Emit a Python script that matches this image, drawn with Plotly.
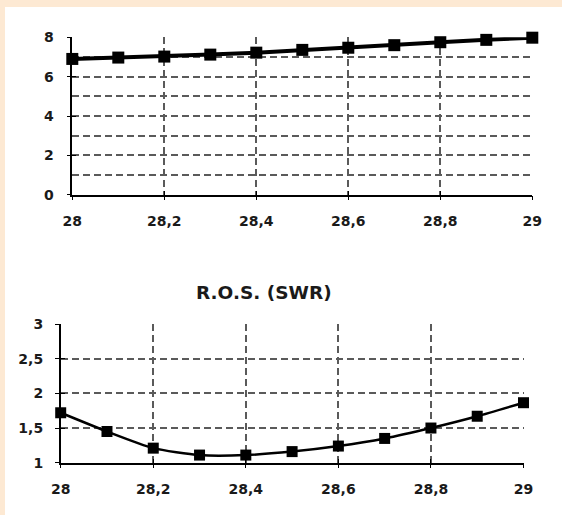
import plotly.graph_objects as go

# Frequency (MHz) sweep shared by both panels
freq = [28.0, 28.1, 28.2, 28.3, 28.4, 28.5, 28.6, 28.7, 28.8, 28.9, 29.0]
# Gain curve (upper panel)
gain = [6.9, 6.97, 7.02, 7.12, 7.22, 7.36, 7.47, 7.6, 7.75, 7.87, 7.98]
# Standing wave ratio (lower panel)
swr = [1.72, 1.45, 1.21, 1.11, 1.11, 1.16, 1.24, 1.35, 1.5, 1.67, 1.865]

x_ticks = [28.0, 28.2, 28.4, 28.6, 28.8, 29.0]
x_labels = ["28", "28,2", "28,4", "28,6", "28,8", "29"]
gain_ticks = [0, 2, 4, 6, 8]
swr_ticks = [1, 1.5, 2, 2.5, 3]
swr_labels = ["1", "1,5", "2", "2,5", "3"]
panel_title = "R.O.S. (SWR)"

W, H = 562, 515
FONT = "DejaVu Sans, Verdana, sans-serif"
INK = "#1a1a1a"
GRID = "#5a5a5a"
DASH = "7px,4px"


def px_x(p):
    return p / W


def px_y(p):
    return 1 - p / H


fig = go.Figure()

fig.add_trace(go.Scatter(
    x=freq, y=gain, mode="lines+markers", xaxis="x", yaxis="y",
    line=dict(color="black", width=4),
    marker=dict(symbol="square", size=12, color="black"),
    cliponaxis=False, showlegend=False, hoverinfo="skip",
))
fig.add_trace(go.Scatter(
    x=freq, y=swr, mode="lines+markers", xaxis="x2", yaxis="y2",
    line=dict(color="black", width=2.5, shape="spline", smoothing=0.6),
    marker=dict(symbol="square", size=11, color="black"),
    cliponaxis=False, showlegend=False, hoverinfo="skip",
))

# invisible traces that carry the inner halves of the cross-shaped ticks
for xa, ya, xv, yv in [("x3", "y", [28.5], [4]), ("x", "y3", [28.5], [4]),
                       ("x4", "y2", [28.5], [2]), ("x2", "y4", [28.5], [2])]:
    fig.add_trace(go.Scatter(x=xv, y=yv, xaxis=xa, yaxis=ya, mode="markers",
                             marker=dict(opacity=0), showlegend=False,
                             hoverinfo="skip"))

tickfont = dict(family=FONT, size=14, color=INK, weight="bold")

x_dom1 = [px_x(72.3), px_x(532.3)]
y_dom1 = [px_y(194.7), px_y(37.3)]
x_dom2 = [px_x(60.7), px_x(523.5)]
y_dom2 = [px_y(462.7), px_y(324)]

common_x = dict(
    range=[28, 29], tickvals=x_ticks, ticktext=x_labels,
    showgrid=True, gridcolor=GRID, griddash=DASH, gridwidth=1.5,
    zeroline=False, showline=True, linecolor="black", linewidth=1.5,
    ticks="outside", ticklen=4, tickcolor="black", tickwidth=1.2,
    tickfont=tickfont, ticklabelstandoff=9, fixedrange=True,
)


def inner_ticks(over, anchor, rng, vals):
    return dict(overlaying=over, anchor=anchor, range=rng, tickvals=vals,
                showticklabels=False, showgrid=False, zeroline=False,
                ticks="inside", ticklen=4, tickcolor="black", tickwidth=1.2,
                showline=False, fixedrange=True)


fig.update_layout(
    width=W, height=H,
    margin=dict(l=0, r=0, t=0, b=0, pad=0, autoexpand=False),
    paper_bgcolor="#fde9d3",
    plot_bgcolor="rgba(0,0,0,0)",
    xaxis=dict(common_x, domain=x_dom1, anchor="y"),
    yaxis=dict(
        domain=y_dom1, anchor="x", range=[0, 8], tickvals=gain_ticks,
        showgrid=True, gridcolor=GRID, griddash=DASH, gridwidth=1.5,
        minor=dict(dtick=1, showgrid=True, gridcolor=GRID, griddash=DASH,
                   gridwidth=1.5),
        zeroline=False, showline=True, linecolor="black", linewidth=1.5,
        ticks="outside", ticklen=4, tickcolor="black", tickwidth=1.2,
        tickfont=tickfont, ticklabelstandoff=10, fixedrange=True,
    ),
    xaxis2=dict(common_x, domain=x_dom2, anchor="y2"),
    yaxis2=dict(
        domain=y_dom2, anchor="x2", range=[1, 3], tickvals=swr_ticks,
        ticktext=swr_labels,
        showgrid=True, gridcolor=GRID, griddash=DASH, gridwidth=1.5,
        zeroline=False, showline=True, linecolor="black", linewidth=1.5,
        ticks="outside", ticklen=4, tickcolor="black", tickwidth=1.2,
        tickfont=tickfont, ticklabelstandoff=9, fixedrange=True,
    ),
    # overlay axes drawing the inner tick halves
    xaxis3=inner_ticks("x", "y", [28, 29], x_ticks),
    yaxis3=inner_ticks("y", "x", [0, 8], gain_ticks),
    xaxis4=inner_ticks("x2", "y2", [28, 29], x_ticks),
    yaxis4=inner_ticks("y2", "x2", [1, 3], swr_ticks),
    shapes=[dict(type="rect", xref="paper", yref="paper", layer="below",
                 x0=px_x(5), x1=1.0, y0=0.0, y1=px_y(7),
                 fillcolor="white", line=dict(width=0))],
    annotations=[dict(text=panel_title, xref="paper", yref="paper",
                      x=px_x(264), y=px_y(292), showarrow=False,
                      xanchor="center", yanchor="middle",
                      font=dict(family=FONT, size=18.5, color=INK,
                                weight="bold"))],
)

fig.write_html("out.html")
